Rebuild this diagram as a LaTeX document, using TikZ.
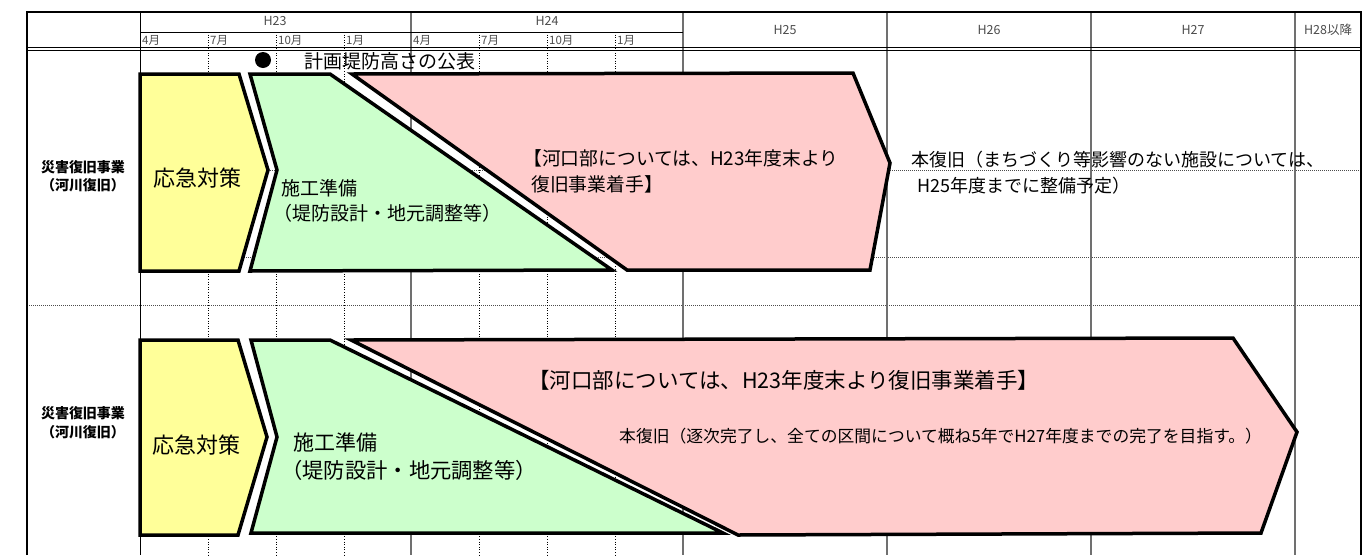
\documentclass[tikz,border=0pt]{standalone}
\usepackage{fontspec}
\newfontfamily\jp{Noto Sans CJK JP}
\definecolor{cyel}{HTML}{FFFF99}
\definecolor{cgrn}{HTML}{CCFFCC}
\definecolor{cpnk}{HTML}{FFCCCC}
\definecolor{gridc}{HTML}{707070}
\tikzset{
  shp/.style={draw=black, line width=3.5pt, line join=miter},
  yr/.style={draw=gridc, line width=1.1pt},
  mo/.style={draw=black, line width=0.6pt, dotted},
  hd/.style={draw=black!70, line width=0.8pt, dash pattern=on 1pt off 1pt},
  txt/.style={inner sep=0pt, font=\jp},
  lbl/.style={inner sep=0pt, font=\jp\bfseries\fontsize{14}{16}\selectfont},
  head/.style={inner sep=0pt, font=\jp\fontsize{12.5}{13}\selectfont, text=black!70},
}
\begin{document}
\begin{tikzpicture}[x=1pt,y=-1pt]
\useasboundingbox (0,0) rectangle (1366,555);
\fill[white] (0,0) rectangle (1366,555);
% horizontal dotted lines
\draw[hd] (27,305) -- (1361,305);
\draw[hd] (140,170) -- (1361,170);
\draw[hd] (140,257) -- (1361,257);
% month verticals
\foreach \x in {208,276,344,479,547,615} \draw[mo] (\x,32) -- (\x,555);
% year verticals
\foreach \x in {411,683,887,1091,1295} \draw[yr] (\x,12) -- (\x,555);
\draw[black, line width=1pt] (140,12) -- (140,555);
\draw[black, line width=0.8pt] (140,32) -- (683,32);
% header double line
\draw[black, line width=1pt] (27,47) -- (1361,47);
\draw[black, line width=1pt] (27,50.5) -- (1361,50.5);
% outer frame
\draw[black, line width=2pt] (27,555) -- (27,12) -- (1361,12) -- (1361,555);
% header labels
\node[head] (h23) at (275,21) {H23};
\node[head] (h24) at (547,21) {H24};
\node[head] (h25) at (785,30) {H25};
\node[head] (h26) at (989,30) {H26};
\node[head] (h27) at (1193,30) {H27};
\node[head] (h28) at (1328,30) {H28以降};
\foreach \x/\m [count=\i] in {140/4月,208/7月,276/10月,344/1月,411/4月,479/7月,547/10月,615/1月}
  \node[head, anchor=west, font=\jp\fontsize{11.5}{12}\selectfont] (m\i) at (\x+2,40.5) {\m};
% milestone
\fill[black] (263,60) circle (8);
\node[txt, anchor=west, font=\jp\fontsize{19}{20}\selectfont] (kouhyou) at (304,61) {計画堤防高さの公表};
% ---------- row 1 ----------
\filldraw[shp, fill=cyel] (140,74) -- (239,74) -- (268,170) -- (239,271) -- (140,271) -- cycle;
\filldraw[shp, fill=cgrn] (250,74) -- (330,74) -- (612,270) -- (250,271) -- (277,170) -- cycle;
\filldraw[shp, fill=cpnk] (352,74) -- (853,73) -- (890,163) -- (870,270) -- (627,270) -- cycle;
\node[lbl] (l1a) at (83,167) {災害復旧事業};
\node[lbl] (l1b) at (83,185) {（河川復旧）};
\node[txt, font=\jp\fontsize{22}{24}\selectfont] (y1) at (197,178) {応急対策};
\node[txt, anchor=west, font=\jp\fontsize{19}{20}\selectfont] (g1a) at (281,188) {施工準備};
\node[txt, anchor=west, font=\jp\fontsize{19}{20}\selectfont] (g1b) at (273,213) {（堤防設計・地元調整等）};
\node[txt, anchor=west, font=\jp\fontsize{18.8}{20}\selectfont] (p1a) at (523,158) {【河口部については、H23年度末より};
\node[txt, anchor=west, font=\jp\fontsize{18.8}{20}\selectfont] (p1b) at (531,184) {復旧事業着手】};
\node[txt, anchor=west, font=\jp\fontsize{18}{19}\selectfont] (r1a) at (911,160) {本復旧（まちづくり等影響のない施設については、};
\node[txt, anchor=west, font=\jp\fontsize{18}{19}\selectfont] (r1b) at (917,186) {H25年度までに整備予定）};
% ---------- row 2 ----------
\filldraw[shp, fill=cyel] (140,340) -- (238,340) -- (267,437) -- (238,535) -- (140,535) -- cycle;
\filldraw[shp, fill=cgrn] (251,340) -- (330,340) -- (723,533) -- (251,533) -- (277,437) -- cycle;
\filldraw[shp, fill=cpnk] (351,340) -- (1233,338) -- (1297,432) -- (1261,533) -- (738,535) -- cycle;
\node[lbl] (l2a) at (83,413) {災害復旧事業};
\node[lbl] (l2b) at (83,432) {（河川復旧）};
\node[txt, font=\jp\fontsize{22}{24}\selectfont] (y2) at (196,445) {応急対策};
\node[txt, anchor=west, font=\jp\fontsize{21}{23}\selectfont] (g2a) at (293,442) {施工準備};
\node[txt, anchor=west, font=\jp\fontsize{21.3}{23}\selectfont] (g2b) at (281,470) {（堤防設計・地元調整等）};
\node[txt, anchor=west, font=\jp\fontsize{21.5}{23}\selectfont] (p2a) at (528,380) {【河口部については、H23年度末より復旧事業着手】};
\node[txt, anchor=west, font=\jp\fontsize{16.8}{18}\selectfont] (p2b) at (619,436) {本復旧（逐次完了し、全ての区間について概ね5年でH27年度までの完了を目指す。）};
\end{tikzpicture}
\end{document}
